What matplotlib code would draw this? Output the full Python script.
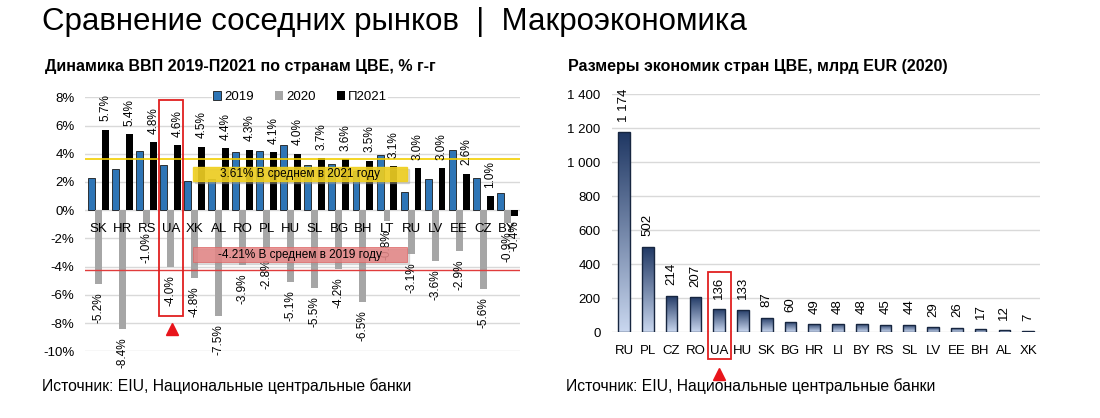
import numpy as np
import matplotlib
matplotlib.use("Agg")
import matplotlib.pyplot as plt
from matplotlib import font_manager
from matplotlib.patches import Patch, Rectangle
from matplotlib.colors import LinearSegmentedColormap

# --- данные: динамика ВВП, % г-г ---
gdp_countries = ['SK', 'HR', 'RS', 'UA', 'XK', 'AL', 'RO', 'PL', 'HU',
                 'SL', 'BG', 'BH', 'LT', 'RU', 'LV', 'EE', 'CZ', 'BY']
gdp_2019 = [2.3, 2.9, 4.2, 3.2, 2.1, 2.2, 4.1, 4.2, 4.6,
            3.2, 3.3, 2.8, 3.9, 1.3, 2.2, 4.3, 2.3, 1.2]
gdp_2020 = [-5.2, -8.4, -1.0, -4.0, -4.8, -7.5, -3.9, -2.8, -5.1,
            -5.5, -4.2, -6.5, -0.8, -3.1, -3.6, -2.9, -5.6, -0.9]
gdp_2021 = [5.7, 5.4, 4.8, 4.6, 4.5, 4.4, 4.3, 4.1, 4.0,
            3.7, 3.6, 3.5, 3.1, 3.0, 3.0, 2.6, 1.0, -0.4]
avg_2021 = 3.61
avg_2020 = -4.21

# --- данные: размеры экономик, млрд EUR (2020) ---
size_countries = ['RU', 'PL', 'CZ', 'RO', 'UA', 'HU', 'SK', 'BG', 'HR',
                  'LI', 'BY', 'RS', 'SL', 'LV', 'EE', 'BH', 'AL', 'XK']
size_values = [1174, 502, 214, 207, 136, 133, 87, 60, 49,
               48, 48, 45, 44, 29, 26, 17, 12, 7]

installed = {f.name for f in font_manager.fontManager.ttflist}
narrow = 'Liberation Sans Narrow' if 'Liberation Sans Narrow' in installed else 'Liberation Sans'
plt.rcParams['font.family'] = ['Liberation Sans', 'DejaVu Sans']

grid_c = '#D9D9D9'
fig = plt.figure(figsize=(11, 4.18), dpi=100)

fig.text(0.038, 0.948, 'Сравнение соседних рынков  |  Макроэкономика',
         family=[narrow, 'DejaVu Sans'], fontsize=22.5, va='center', ha='left')
fig.text(0.041, 0.842, 'Динамика ВВП 2019-П2021 по странам ЦВЕ, % г-г',
         family=[narrow, 'DejaVu Sans'], fontsize=11.5, fontweight='bold', va='center')
fig.text(0.516, 0.842, 'Размеры экономик стран ЦВЕ, млрд EUR (2020)',
         family=[narrow, 'DejaVu Sans'], fontsize=11.5, fontweight='bold', va='center')
fig.text(0.038, 0.077, 'Источник: EIU, Национальные центральные банки', fontsize=11.3, va='center')
fig.text(0.515, 0.077, 'Источник: EIU, Национальные центральные банки', fontsize=11.3, va='center')

# ===== левый график =====
ax = fig.add_axes([0.0773, 0.1596, 0.3955, 0.6076])
x = np.arange(len(gdp_countries))
w = 0.29
ax.bar(x - w, gdp_2019, w, color='#2E75B6', edgecolor='#1a1a1a', linewidth=0.6, zorder=3, label='2019')
ax.bar(x, gdp_2020, w, color='#A6A6A6', zorder=3, label='2020')
ax.bar(x + w, gdp_2021, w, color='black', zorder=3, label='П2021')

for xi, v in zip(x, gdp_2020):
    ax.annotate(f'{v:.1f}%', (xi, v), xytext=(0, -6), textcoords='offset points',
                rotation=90, ha='center', va='top', fontsize=8.5, zorder=5)
for xi, v in zip(x, gdp_2021):
    if v >= 0:
        ax.annotate(f'{v:.1f}%', (xi + w, v), xytext=(0, 6), textcoords='offset points',
                    rotation=90, ha='center', va='bottom', fontsize=8.5, zorder=5)
    else:
        ax.annotate(f'{v:.1f}%', (xi + w, v), xytext=(0, -3), textcoords='offset points',
                    rotation=90, ha='center', va='top', fontsize=8.5, zorder=5)

for xi, c in zip(x, gdp_countries):
    ax.text(xi, -1.3, c, ha='center', va='center', fontsize=9.5, zorder=6)

ax.axhline(avg_2021, color='#F2CE00', linewidth=1.2, zorder=4)
ax.axhline(avg_2020, color='#E03C3C', linewidth=1.0, zorder=4)

# плашки со средними
ax.add_patch(Rectangle((4.0, 1.95), 8.9, 0.98, color='#9a9a9a', alpha=0.35, zorder=6))
ax.add_patch(Rectangle((3.92, 2.06), 8.9, 0.98, color='#F0CF1C', alpha=0.88, zorder=7))
ax.text(8.37, 2.55, f'{avg_2021:.2f}% В среднем в 2021 году', ha='center', va='center',
        fontsize=8.5, zorder=8)
ax.add_patch(Rectangle((4.0, -3.8), 8.9, 1.05, color='#9a9a9a', alpha=0.3, zorder=6))
ax.add_patch(Rectangle((3.92, -3.69), 8.9, 1.05, facecolor='#E48585', edgecolor='#D66',
                       linewidth=0.6, alpha=0.85, zorder=7))
ax.text(8.37, -3.16, f'{avg_2020:.2f}% В среднем в 2019 году', ha='center', va='center',
        fontsize=8.5, zorder=8)

# выделение Украины
ax.add_patch(Rectangle((2.5, -7.52), 1.0, 15.3, fill=False, edgecolor='#E02020',
                       linewidth=1.3, clip_on=False, zorder=9))
ax.plot([3.05], [-8.45], marker='^', color='#E8141B', markersize=8, clip_on=False, zorder=9)

ax.set_xlim(-0.57, 17.54)
ax.set_ylim(-10, 8)
ax.set_yticks(range(-10, 9, 2))
ax.set_yticklabels([f'{t}%' for t in range(-10, 9, 2)], fontsize=9.5)
ax.set_xticks([])
ax.grid(axis='y', color=grid_c, linewidth=1, zorder=0)
ax.tick_params(axis='y', length=0, pad=7.5)
for s in ax.spines.values():
    s.set_visible(False)

handles = [Patch(facecolor='#2E75B6', edgecolor='#1a1a1a', linewidth=0.6, label='2019'),
           Patch(facecolor='#A6A6A6', label='2020'),
           Patch(facecolor='black', label='П2021')]
leg = ax.legend(handles=handles, loc='center', bbox_to_anchor=(0.494, 1.0), ncol=3,
                frameon=True, fontsize=9.5, handlelength=0.6, handleheight=0.6,
                handletextpad=0.25, columnspacing=1.6, borderpad=0.1, fancybox=False)
leg.get_frame().set_edgecolor('none')
leg.get_frame().set_facecolor('white')
leg.get_frame().set_alpha(1)
leg.set_zorder(10)

# ===== правый график =====
ax2 = fig.add_axes([0.5561, 0.2050, 0.3894, 0.5701])
x2 = np.arange(len(size_countries))
bars = ax2.bar(x2, size_values, 0.49, facecolor='none', edgecolor='#172640',
               linewidth=1.0, zorder=4)
cmap = LinearSegmentedColormap.from_list('grad', ['#C9D7EF', '#1F3763'])
grad = np.linspace(0, 1, 256).reshape(-1, 1)
for b in bars:
    im = ax2.imshow(grad, cmap=cmap, origin='lower', aspect='auto', zorder=3,
                    extent=[b.get_x(), b.get_x() + b.get_width(), 0, b.get_height()])
    im.set_clip_path(b)
for xi, v in zip(x2, size_values):
    ax2.annotate(f'{v:,}'.replace(',', ' '), (xi, v), xytext=(0, 7.5), textcoords='offset points',
                 rotation=90, ha='center', va='bottom', fontsize=9.5)

ax2.add_patch(Rectangle((3.52, -158), 0.96, 514, fill=False, edgecolor='#E02020',
                        linewidth=1.3, clip_on=False, zorder=9))
ax2.plot([4.0], [-245], marker='^', color='#E8141B', markersize=8, clip_on=False, zorder=9)

ax2.set_xlim(-0.52, 17.5)
ax2.set_ylim(0, 1400)
ax2.set_yticks(range(0, 1401, 200))
ax2.set_yticklabels([f'{t:,}'.replace(',', ' ') for t in range(0, 1401, 200)], fontsize=9.5)
ax2.set_xticks(x2)
ax2.set_xticklabels(size_countries, fontsize=9.5)
ax2.grid(axis='y', color=grid_c, linewidth=1, zorder=0)
ax2.tick_params(axis='both', length=0)
ax2.tick_params(axis='y', pad=8)
ax2.tick_params(axis='x', pad=9)
for s in ax2.spines.values():
    s.set_visible(False)

fig.savefig('out.png', dpi=100)
